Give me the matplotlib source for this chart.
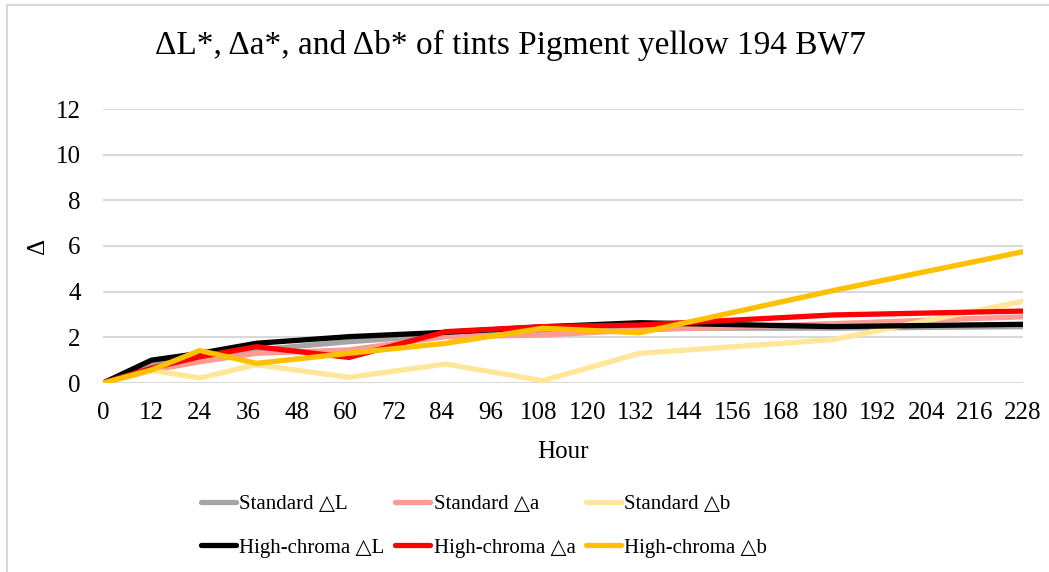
import matplotlib.pyplot as plt
from matplotlib.lines import Line2D

plt.rcParams['font.family'] = ['Liberation Serif', 'DejaVu Serif']

# sampling hours
hours = [0, 12, 24, 38, 61, 85, 109, 133, 181, 228]

std_L = [0, 0.80, 1.15, 1.45, 1.81, 2.10, 2.30, 2.40, 2.40, 2.47]
std_a = [0, 0.55, 0.93, 1.30, 1.45, 2.03, 2.10, 2.32, 2.60, 2.90]
std_b = [0, 0.55, 0.22, 0.80, 0.25, 0.83, 0.10, 1.30, 1.90, 3.58]
hc_L = [0, 1.00, 1.30, 1.74, 2.03, 2.22, 2.46, 2.64, 2.47, 2.57]
hc_a = [0, 0.65, 1.15, 1.59, 1.12, 2.25, 2.47, 2.54, 2.98, 3.15]
hc_b = [0, 0.57, 1.42, 0.86, 1.30, 1.74, 2.40, 2.20, 4.05, 5.75]

labels = ['Standard \u25b3L', 'Standard \u25b3a', 'Standard \u25b3b',
          'High-chroma \u25b3L', 'High-chroma \u25b3a', 'High-chroma \u25b3b']
colors = ['#A5A5A5', '#FF9B90', '#FFE699', '#000000', '#FF0000', '#FFC000']
series = [std_L, std_a, std_b, hc_L, hc_a, hc_b]

xticks = list(range(0, 229, 12))

fig = plt.figure(figsize=(10.49, 5.72), dpi=100)
W, H = 1049, 572
ax = fig.add_axes([103 / W, 1 - 383 / H, (1023 - 103) / W, (383 - 109) / H])

for vals, c, lab in zip(series, colors, labels):
    ax.plot(hours, vals, color=c, lw=3.8, label=lab, solid_joinstyle='miter',
            solid_capstyle='round', zorder=3)

ax.set_xlim(0, 228)
ax.set_ylim(0, 12)
ax.set_xticks(xticks)
ax.set_yticks(range(0, 13, 2))
ax.tick_params(length=0, labelsize=18, colors='black')
ax.tick_params(axis='x', pad=14)
ax.tick_params(axis='y', pad=16)
ax.grid(axis='y', color='#D9D9D9', lw=1.5, zorder=0)
for s in ax.spines.values():
    s.set_visible(False)

ax.set_xlabel('Hour', fontsize=18, labelpad=12)
ax.set_ylabel('\u0394', fontsize=18, labelpad=5)
fig.text(510 / W, 1 - 45 / H,
         '\u0394L*, \u0394a*, and \u0394b* of tints Pigment yellow 194 BW7',
         fontsize=24, ha='center', va='center')

# legend filled row by row: reorder for matplotlib column-wise filling
handles, labs = ax.get_legend_handles_labels()
order = [0, 3, 1, 4, 2, 5]
fig.legend([handles[i] for i in order], [labs[i] for i in order],
           ncol=3, loc='center left', bbox_to_anchor=(182 / W, 1 - 526 / H),
           frameon=False, fontsize=15, handlelength=1.7, handletextpad=0.15,
           columnspacing=0.5, labelspacing=1.15)

# chart border (partially cropped)
fig.add_artist(Line2D([7 / W, 1.0], [1 - 5 / H, 1 - 5 / H], color='#D9D9D9',
                      lw=1.5, transform=fig.transFigure))
fig.add_artist(Line2D([7 / W, 7 / W], [0, 1 - 5 / H], color='#D9D9D9',
                      lw=1.5, transform=fig.transFigure))

fig.savefig('out.png', dpi=100)
